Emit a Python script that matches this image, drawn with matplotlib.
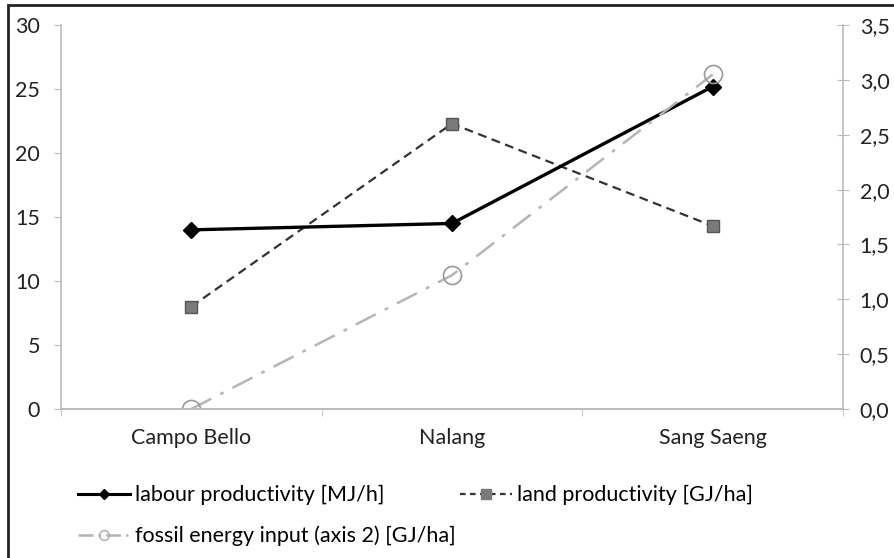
import matplotlib.pyplot as plt
from matplotlib.patches import Rectangle
from matplotlib.lines import Line2D
from matplotlib.ticker import FuncFormatter

sites = ["Campo Bello", "Nalang", "Sang Saeng"]
labour = [14.0, 14.5, 25.2]      # MJ/h
land = [8.0, 22.3, 14.3]         # GJ/ha
fossil = [0.0, 1.22, 3.05]       # GJ/ha, axis 2

plt.rcParams['font.family'] = ['Lato', 'DejaVu Sans']
plt.rcParams['font.size'] = 15.5

fig = plt.figure(figsize=(8.95, 5.58), dpi=100)
ax = fig.add_axes([0.068, 0.267, 0.874, 0.688])
ax2 = ax.twinx()

x = list(range(len(sites)))
ax.plot(x, labour, color='black', lw=2.4, marker='D', ms=8, zorder=5)
ax.plot(x, land, color='#333333', lw=1.6, ls=(0, (4, 2.5)), marker='s', ms=9,
        mfc='#7a7a7a', mec='#555555', zorder=4)
ax2.plot(x, fossil, color='#b5b5b5', lw=1.8, ls=(0, (9, 4, 1.5, 4)), marker='o',
         ms=13, mfc='none', mec='#999999', mew=1.2)

ax.set_xlim(-0.5, 2.5)
ax.set_ylim(0, 30)
ax.set_yticks(range(0, 31, 5))
ax2.set_ylim(0, 3.5)
ax2.set_yticks([i * 0.5 for i in range(8)])
ax2.yaxis.set_major_formatter(FuncFormatter(lambda v, p: f"{v:.1f}".replace('.', ',')))

ax.set_xticks(x)
ax.set_xticklabels(sites)
ax.set_xticks([-0.5, 0.5, 1.5, 2.5], minor=True)
ax.tick_params(axis='x', which='major', length=0, pad=14, colors='#222222')
ax.tick_params(axis='x', which='minor', length=5, color='#bbbbbb', direction='out')
ax.tick_params(axis='y', length=5, pad=10, colors='#222222')
ax2.tick_params(axis='y', length=8, direction='inout', pad=8, colors='#222222')
ax.tick_params(axis='y', color='#bbbbbb')
ax2.tick_params(axis='y', color='#bbbbbb')

for a in (ax, ax2):
    a.spines['top'].set_visible(False)
    for s in ('left', 'right', 'bottom'):
        a.spines[s].set_color('#bbbbbb')
        a.spines[s].set_linewidth(1.2)
ax2.spines['left'].set_visible(False)
ax.spines['right'].set_visible(False)

# legend proxies with the small Excel-style markers
h1 = Line2D([], [], color='black', lw=2.2, marker='D', ms=5)
h2 = Line2D([], [], color='#333333', lw=1.6, ls=(0, (2.5, 2)), marker='s', ms=7,
            mfc='#7a7a7a', mec='#7a7a7a')
h3 = Line2D([], [], color='#b5b5b5', lw=1.8, ls=(0, (6, 2, 1, 2)), marker='o', ms=7,
            mfc='none', mec='#aaaaaa')

leg_top = 1 - 485 / 558
leg1 = fig.legend([h1, h3], ['labour productivity [MJ/h]', 'fossil energy input (axis 2) [GJ/ha]'],
                  loc='upper left', bbox_to_anchor=(78 / 895, leg_top), frameon=False,
                  borderpad=0, borderaxespad=0, handlelength=2.4, handletextpad=0.25,
                  labelspacing=0.95)
leg2 = fig.legend([h2], ['land productivity [GJ/ha]'],
                  loc='upper left', bbox_to_anchor=(460 / 895, leg_top), frameon=False,
                  borderpad=0, borderaxespad=0, handlelength=2.4, handletextpad=0.25)

fig.patches.append(Rectangle((0.009, -0.01), 1.0, 1.001, transform=fig.transFigure,
                             fill=False, edgecolor='#222222', lw=2))

fig.savefig('out.png', dpi=100)
